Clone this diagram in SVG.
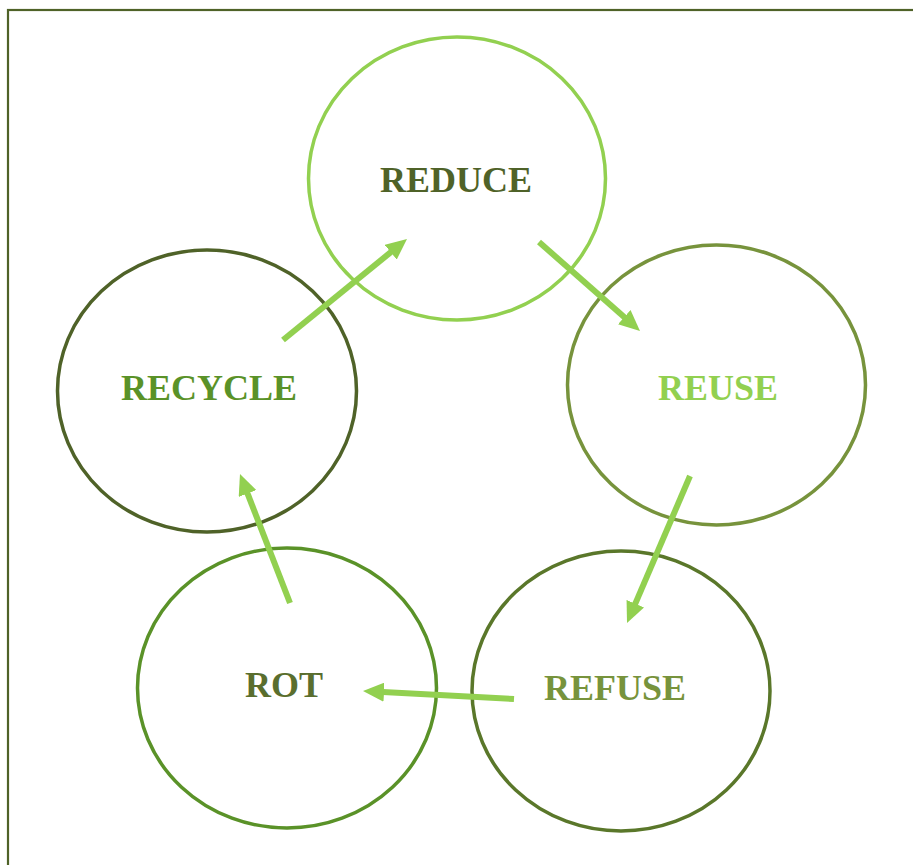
<svg xmlns="http://www.w3.org/2000/svg" width="913" height="865" viewBox="0 0 913 865">
<style>
.node ellipse{fill:none;stroke-width:3.5}
.node text{font-family:"Liberation Serif","Times New Roman",serif;font-weight:bold;font-size:36px;text-anchor:middle}
.conn line{stroke:#92D050;stroke-width:6;fill:none}
</style>
<defs>
<marker id="ah" markerUnits="userSpaceOnUse" markerWidth="21" markerHeight="19" viewBox="0 0 21 19" refX="1" refY="9.5" orient="auto">
<path d="M0,0 L21,9.5 L0,19 z" fill="#92D050"/>
</marker>
</defs>
<rect x="8" y="10" width="930" height="880" fill="#ffffff" stroke="#4F6228" stroke-width="2.2"/>
<g id="reduce" class="node">
<ellipse cx="457" cy="178.5" rx="148.5" ry="141.5" stroke="#92D050"/>
<text x="456" y="192" fill="#4F6228">REDUCE</text>
</g>
<g id="reuse" class="node">
<ellipse cx="716.5" cy="385" rx="149" ry="140" stroke="#77933C"/>
<text x="718" y="400" fill="#92D050">REUSE</text>
</g>
<g id="refuse" class="node">
<ellipse cx="621" cy="691" rx="149" ry="140" stroke="#5A772A"/>
<text x="615" y="700" fill="#77933C">REFUSE</text>
</g>
<g id="rot" class="node">
<ellipse cx="287" cy="688" rx="149.5" ry="140" stroke="#5A9228"/>
<text x="284" y="697" fill="#5A6E2E">ROT</text>
</g>
<g id="recycle" class="node">
<ellipse cx="207" cy="391" rx="149.5" ry="141" stroke="#4F6228"/>
<text x="209" y="400" fill="#5A9228">RECYCLE</text>
</g>
<g id="connectors" class="conn">
<line x1="283" y1="340" x2="391.5" y2="251.6" marker-end="url(#ah)"/>
<line x1="539" y1="242" x2="625" y2="317.8" marker-end="url(#ah)"/>
<line x1="690" y1="476" x2="634.9" y2="604.6" marker-end="url(#ah)"/>
<line x1="514" y1="699" x2="383" y2="692.1" marker-end="url(#ah)"/>
<line x1="290" y1="603" x2="247.2" y2="492.6" marker-end="url(#ah)"/>
</g>
</svg>
